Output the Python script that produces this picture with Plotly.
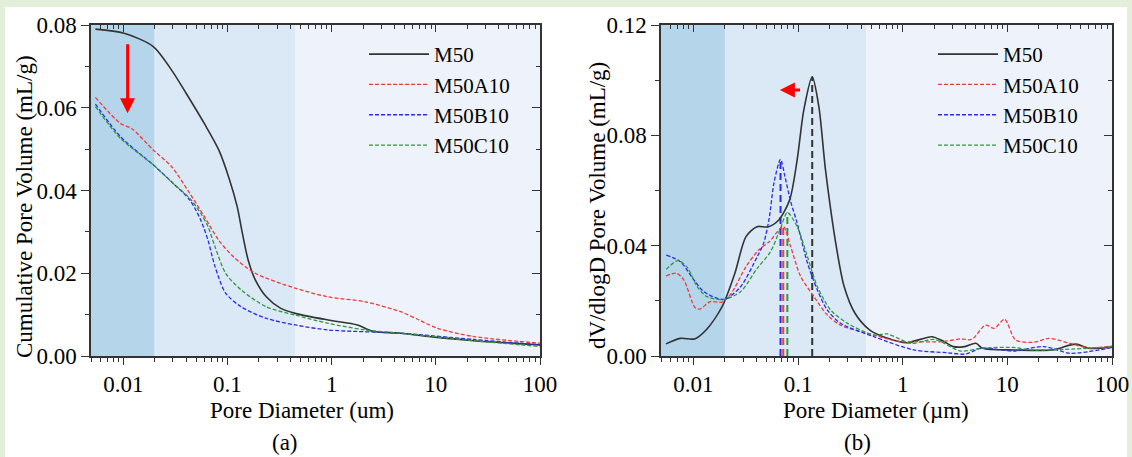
import numpy as np
import plotly.graph_objects as go

# ---------------- Data: panel (a) cumulative pore volume ----------------
a_m50_d = [0.0054, 0.0102, 0.0194, 0.0291, 0.0401, 0.0599, 0.0825, 0.105, 0.124, 0.139, 0.158,
           0.185, 0.236, 0.325, 0.447, 0.925, 1.77, 2.46, 4.6, 10.3, 23.2, 100]
a_m50_v = [0.0790, 0.0780, 0.0748, 0.0691, 0.0635, 0.0562, 0.0498, 0.0425, 0.0361, 0.0297, 0.0232,
           0.0184, 0.0143, 0.0115, 0.0103, 0.0087, 0.0075, 0.0060, 0.0055, 0.0045, 0.0037, 0.0027]

a_a10_d = [0.0054, 0.0094, 0.012, 0.0194, 0.029, 0.0435, 0.06, 0.0825, 0.114, 0.185, 0.447, 0.925,
           2.1, 4.6, 6.9, 10.4, 23.2, 100]
a_a10_v = [0.0625, 0.0562, 0.0550, 0.0498, 0.0458, 0.0393, 0.0337, 0.0280, 0.0240, 0.0200, 0.0164,
           0.0143, 0.0131, 0.0107, 0.0087, 0.0067, 0.0047, 0.0031]

a_b10_d = [0.0054, 0.0094, 0.0194, 0.029, 0.0435, 0.0553, 0.065, 0.076, 0.096, 0.135, 0.236, 0.447,
           0.925, 4.6, 23, 100]
a_b10_v = [0.0609, 0.0530, 0.0462, 0.0421, 0.0377, 0.0329, 0.0280, 0.0216, 0.0152, 0.0119, 0.0091,
           0.0075, 0.0063, 0.0055, 0.0040, 0.0027]

a_c10_d = [0.0054, 0.0094, 0.0194, 0.029, 0.0435, 0.0553, 0.065, 0.076, 0.096, 0.135, 0.236, 0.447,
           0.925, 2.1, 4.6, 23, 100]
a_c10_v = [0.0603, 0.0526, 0.0462, 0.0421, 0.0381, 0.0345, 0.0313, 0.0264, 0.0200, 0.0160, 0.0119,
           0.0099, 0.0079, 0.0063, 0.0055, 0.0037, 0.0023]

# ---------------- Data: panel (b) dV/dlogD ----------------
b_m50_d = [0.00546, 0.0075, 0.0103, 0.0132, 0.0188, 0.0249, 0.0318, 0.0405, 0.0514, 0.0654, 0.0831,
           0.098, 0.1135, 0.1365, 0.158, 0.183, 0.235, 0.276, 0.35, 0.485, 0.72, 1.08, 1.9, 2.4,
           3.05, 3.9, 5.0, 5.8, 12, 26.8, 45, 60, 100]
b_m50_v = [0.0044, 0.0064, 0.0062, 0.0094, 0.0179, 0.0300, 0.0433, 0.0469, 0.0468, 0.0493, 0.0566,
           0.0711, 0.0892, 0.1012, 0.0904, 0.0674, 0.0384, 0.0251, 0.0155, 0.0094, 0.0064, 0.0048,
           0.0070, 0.0055, 0.0034, 0.0034, 0.0046, 0.0028, 0.0022, 0.0022, 0.0043, 0.0028, 0.0032]

b_a10_d = [0.00546, 0.0069, 0.0081, 0.0103, 0.0115, 0.0145, 0.0188, 0.023, 0.0318, 0.042, 0.053,
           0.0722, 0.085, 0.106, 0.142, 0.19, 0.254, 0.46, 0.96, 1.27, 2.4, 3.6, 4.55, 6.2, 7.5,
           9.4, 12, 17.9, 25, 39.5, 59.5, 100]
b_a10_v = [0.0290, 0.0300, 0.0276, 0.0177, 0.0170, 0.0197, 0.0195, 0.0227, 0.0324, 0.0384, 0.0414,
           0.0469, 0.0396, 0.0288, 0.0215, 0.0149, 0.0112, 0.0082, 0.0052, 0.0052, 0.0052, 0.0062,
           0.0060, 0.0112, 0.0100, 0.0133, 0.0058, 0.0050, 0.0064, 0.0046, 0.0030, 0.0036]

b_b10_d = [0.0055, 0.0075, 0.0101, 0.0126, 0.0195, 0.0282, 0.0407, 0.047, 0.053, 0.059, 0.068,
           0.075, 0.085, 0.098, 0.123, 0.153, 0.19, 0.254, 0.53, 1.27, 2.65, 4.0, 5.6, 11.5, 22.3,
           40, 100]
b_b10_v = [0.0366, 0.0342, 0.0276, 0.0233, 0.0205, 0.0251, 0.0360, 0.0410, 0.0500, 0.0630, 0.0713,
           0.0650, 0.0560, 0.0482, 0.0337, 0.0239, 0.0167, 0.0119, 0.0070, 0.0022, 0.0012, 0.0007,
           0.0028, 0.0018, 0.0034, 0.0010, 0.0031]

b_c10_d = [0.0055, 0.0071, 0.0087, 0.0109, 0.0135, 0.0195, 0.0282, 0.0407, 0.0545, 0.068, 0.079,
           0.098, 0.123, 0.153, 0.205, 0.295, 0.53, 0.71, 1.2, 2.0, 3.6, 5.6, 11.5, 16.8, 35, 100]
b_c10_v = [0.0314, 0.0346, 0.0322, 0.0251, 0.0215, 0.0205, 0.0233, 0.0318, 0.0378, 0.0463, 0.0520,
           0.0469, 0.0360, 0.0251, 0.0167, 0.0119, 0.0076, 0.0080, 0.0046, 0.0060, 0.0018, 0.0028,
           0.0031, 0.0022, 0.0024, 0.0033]

# most probable pore diameters (peak markers) for M50, M50A10, M50B10, M50C10
peak_d = [0.1365, 0.0722, 0.068, 0.079]
peak_v = [0.1012, 0.0469, 0.0713, 0.0520]

names = ["M50", "M50A10", "M50B10", "M50C10"]
x_min, x_max = 0.0049, 100
band_edges = [0.0049, 0.02, 0.45, 100]

# ---------------- Styles ----------------
W, H = 1132, 457
FONT = "Liberation Serif"
colors = ["#333333", "#ee3b3b", "#2b2bee", "#2e9a3e"]
dashes = ["solid", "4px,2px", "4px,2px", "4px,2px"]
widths = [1.6, 1.3, 1.3, 1.3]
band_colors = ["#b5d5eb", "#dbe8f5", "#eef2fa"]

fig = go.Figure()

panel_a = [(a_m50_d, a_m50_v), (a_a10_d, a_a10_v), (a_b10_d, a_b10_v), (a_c10_d, a_c10_v)]
panel_b = [(b_m50_d, b_m50_v), (b_a10_d, b_a10_v), (b_b10_d, b_b10_v), (b_c10_d, b_c10_v)]

for i, (d, v) in enumerate(panel_a):
    fig.add_trace(go.Scatter(x=d, y=v, mode="lines", name=names[i], xaxis="x", yaxis="y",
                             line=dict(color=colors[i], dash=dashes[i], width=widths[i],
                                       shape="spline", smoothing=0.8),
                             legend="legend"))

# vertical peak markers in panel b (drawn first so curves are on top)
for i in range(4):
    fig.add_trace(go.Scatter(x=[peak_d[i], peak_d[i]], y=[0, peak_v[i]], mode="lines",
                             xaxis="x2", yaxis="y2", showlegend=False, hoverinfo="skip",
                             line=dict(color=colors[i], dash="7px,4px", width=2)))

for i, (d, v) in enumerate(panel_b):
    fig.add_trace(go.Scatter(x=d, y=v, mode="lines", name=names[i], xaxis="x2", yaxis="y2",
                             line=dict(color=colors[i], dash=dashes[i], width=widths[i],
                                       shape="spline", smoothing=0.8),
                             legend="legend2"))

# empty traces so mirrored tick axes (top/right, inward ticks) are drawn
for xa, ya in (("x3", "y3"), ("x4", "y4")):
    fig.add_trace(go.Scatter(x=[], y=[], xaxis=xa, yaxis=ya, showlegend=False, hoverinfo="skip"))

# geometry (pixels)
ax_l = [91, 540]
bx_l = [661, 1112]
top_px, bot_px = 25, 356
ydom = [1 - bot_px / H, 1 - top_px / H]
xdom_a = [ax_l[0] / W, ax_l[1] / W]
xdom_b = [bx_l[0] / W, bx_l[1] / W]

xrange_log = [np.log10(x_min), np.log10(x_max)]
tickfont = dict(family=FONT, size=23, color="black")


def xaxis_main(domain, anchor):
    return dict(type="log", range=xrange_log, domain=domain, anchor=anchor, dtick=1,
                ticks="outside", ticklen=7, tickwidth=1.3, tickcolor="#333",
                showline=True, linecolor="#333", linewidth=1.5, mirror=True,
                showgrid=False, zeroline=False, tickfont=tickfont, automargin=False,
                minor=dict(ticks="outside", ticklen=4, dtick="D1", tickcolor="#333",
                           tickwidth=1.1, showgrid=False))


def xaxis_top(over, anchor, domain):
    return dict(type="log", range=xrange_log, overlaying=over, anchor=anchor, side="top",
                domain=domain, dtick=1, ticks="inside", ticklen=7, tickwidth=1.3,
                tickcolor="#333", showticklabels=False, showline=False, showgrid=False,
                zeroline=False, automargin=False,
                minor=dict(ticks="inside", ticklen=4, dtick="D1", tickcolor="#333",
                           tickwidth=1.1, showgrid=False))


def yaxis_main(rng, dt, anchor):
    return dict(range=rng, domain=ydom, anchor=anchor, dtick=dt, tickformat=".2f",
                ticks="outside", ticklen=8, tickwidth=1.3, tickcolor="#333",
                showline=True, linecolor="#333", linewidth=1.5, mirror=True,
                showgrid=False, zeroline=False, tickfont=tickfont, automargin=False,
                minor=dict(ticks="outside", ticklen=4, dtick=dt / 2, tickcolor="#333",
                           tickwidth=1.1, showgrid=False))


def yaxis_right(rng, dt, over, anchor):
    return dict(range=rng, overlaying=over, anchor=anchor, side="right", domain=ydom,
                dtick=dt, ticks="inside", ticklen=8, tickwidth=1.3, tickcolor="#333",
                showticklabels=False, showline=False, showgrid=False, zeroline=False,
                automargin=False,
                minor=dict(ticks="inside", ticklen=4, dtick=dt / 2, tickcolor="#333",
                           tickwidth=1.1, showgrid=False))


shapes = [dict(type="rect", xref="paper", yref="paper", x0=5 / W, x1=1127 / W, y0=0,
               y1=1 - 7 / H, fillcolor="white", line=dict(width=0), layer="below")]
for xr, yr in (("x", "y"), ("x2", "y2")):
    for k in range(3):
        shapes.append(dict(type="rect", xref=xr, yref=yr + " domain", x0=band_edges[k],
                           x1=band_edges[k + 1], y0=0, y1=1, fillcolor=band_colors[k],
                           line=dict(width=0), layer="below"))

title_font = dict(family=FONT, size=23, color="black")
annotations = [
    dict(text="Pore Diameter (um)", x=302 / W, y=1 - 410 / H, xref="paper", yref="paper",
         showarrow=False, font=title_font, xanchor="center", yanchor="middle"),
    dict(text="Pore Diameter (\u00b5m)", x=876 / W, y=1 - 410 / H, xref="paper", yref="paper",
         showarrow=False, font=title_font, xanchor="center", yanchor="middle"),
    dict(text="Cumulative Pore Volume (mL/g)", x=24 / W, y=1 - 207 / H, xref="paper",
         yref="paper", showarrow=False, font=title_font, textangle=-90,
         xanchor="center", yanchor="middle"),
    dict(text="dV/dlogD Pore Volume (mL/g)", x=597 / W, y=1 - 206 / H, xref="paper",
         yref="paper", showarrow=False, font=title_font, textangle=-90,
         xanchor="center", yanchor="middle"),
    dict(text="(a)", x=285 / W, y=1 - 442 / H, xref="paper", yref="paper", showarrow=False,
         font=title_font, xanchor="center", yanchor="middle"),
    dict(text="(b)", x=858 / W, y=1 - 442 / H, xref="paper", yref="paper", showarrow=False,
         font=title_font, xanchor="center", yanchor="middle"),
    # red arrows
    dict(text="", x=np.log10(0.011), y=0.0587, ax=np.log10(0.011), ay=0.0757,
         xref="x", yref="y", axref="x", ayref="y", showarrow=True, arrowhead=2,
         arrowsize=1, arrowwidth=3, arrowcolor="red"),
    dict(text="", x=np.log10(0.067), y=0.0964, ax=np.log10(0.108), ay=0.0964,
         xref="x2", yref="y2", axref="x2", ayref="y2", showarrow=True, arrowhead=2,
         arrowsize=1, arrowwidth=3, arrowcolor="red"),
]

legend_font = dict(family=FONT, size=21, color="black")
fig.update_layout(
    width=W, height=H,
    margin=dict(l=0, r=0, t=0, b=0, autoexpand=False),
    paper_bgcolor="#e3efd9",
    plot_bgcolor="rgba(0,0,0,0)",
    font=dict(family=FONT, color="black"),
    xaxis=xaxis_main(xdom_a, "y"),
    yaxis=yaxis_main([0, 0.08], 0.02, "x"),
    xaxis2=xaxis_main(xdom_b, "y2"),
    yaxis2=yaxis_main([0, 0.12], 0.04, "x2"),
    xaxis3=xaxis_top("x", "y", xdom_a),
    yaxis3=yaxis_right([0, 0.08], 0.02, "y", "x"),
    xaxis4=xaxis_top("x2", "y2", xdom_b),
    yaxis4=yaxis_right([0, 0.12], 0.04, "y2", "x2"),
    shapes=shapes,
    annotations=annotations,
    legend=dict(x=364 / W, y=1 - 34 / H, xanchor="left", yanchor="top",
                bgcolor="rgba(0,0,0,0)", font=legend_font, itemwidth=60),
    legend2=dict(x=933 / W, y=1 - 34 / H, xanchor="left", yanchor="top",
                 bgcolor="rgba(0,0,0,0)", font=legend_font, itemwidth=60),
    showlegend=True,
)

fig.write_html("out.html", config={"displayModeBar": False},
               post_script="document.body.style.margin='0';document.body.style.overflow='hidden';")
